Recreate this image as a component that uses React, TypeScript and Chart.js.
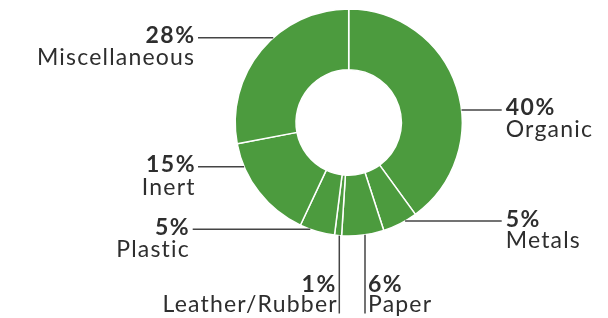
import React, { useEffect, useRef } from "react";
import { Chart, registerables } from "chart.js";

Chart.register(...registerables);

const categories = ["Organic", "Metals", "Paper", "Leather/Rubber", "Plastic", "Inert", "Miscellaneous"];
const values = [40, 5, 6, 1, 5, 15, 28];
const percentLabels = ["40%", "5%", "6%", "1%", "5%", "15%", "28%"];

const GREEN = "#4c9b3e";
const TEXT = "#2e2e2e";
const LINE = "#444444";

// label layout relative to donut center (pixels)
type Lay = { dir: "left" | "right" | "down"; off: number; end: number; textGap: number; b1: number; b2: number };
const layouts: Lay[] = [
  { dir: "right", off: -12.5, end: 153, textGap: 4, b1: 5, b2: 27 },
  { dir: "right", off: 98.5, end: 153, textGap: 4, b1: 5.5, b2: 27 },
  { dir: "down", off: 16.3, end: 191, textGap: 3, b1: 169.5, b2: 189.5 },
  { dir: "down", off: -9.4, end: 191, textGap: 4, b1: 169.5, b2: 189.5 },
  { dir: "left", off: 106.8, end: -156, textGap: 4, b1: 5.5, b2: 27.5 },
  { dir: "left", off: 44.2, end: -150.7, textGap: 3.5, b1: 5.5, b2: 28.5 },
  { dir: "left", off: -84.8, end: -150.7, textGap: 4, b1: 5.5, b2: 27.5 },
];

const labelPlugin = {
  id: "leaderLabels",
  afterDraw(chart: any) {
    const meta = chart.getDatasetMeta(0);
    const arc0 = meta.data[0];
    if (!arc0) return;
    const cx = arc0.x;
    const cy = arc0.y;
    const R = arc0.outerRadius;
    const ctx = chart.ctx;
    ctx.save();
    ctx.strokeStyle = LINE;
    ctx.lineWidth = 1.5;
    ctx.fillStyle = TEXT;
    const setBold = () => {
      ctx.font = "bold 23px Lato";
      ctx.letterSpacing = "1.5px";
    };
    const setReg = () => {
      ctx.font = "23px Lato";
      ctx.letterSpacing = "1.2px";
    };
    layouts.forEach((l, i) => {
      ctx.beginPath();
      if (l.dir === "down") {
        const x = cx + l.off;
        const y0 = cy + Math.sqrt(R * R - l.off * l.off);
        ctx.moveTo(x, y0);
        ctx.lineTo(x, cy + l.end);
        ctx.stroke();
        const isLeft = l.off < 0;
        ctx.textAlign = isLeft ? "right" : "left";
        const tx = isLeft ? x - l.textGap : x + l.textGap;
        setBold();
        ctx.fillText(percentLabels[i], isLeft ? tx + 1.5 : tx, l.b1 + cy);
        setReg();
        ctx.fillText(categories[i], isLeft ? tx + 2.5 : tx, l.b2 + cy);
      } else {
        const y = cy + l.off;
        const dx = Math.sqrt(R * R - l.off * l.off);
        const x0 = l.dir === "right" ? cx + dx : cx - dx;
        const x1 = cx + l.end;
        ctx.moveTo(x0, y);
        ctx.lineTo(x1, y);
        ctx.stroke();
        const isLeft = l.dir === "left";
        const tx = isLeft ? x1 - l.textGap : x1 + l.textGap;
        ctx.textAlign = isLeft ? "right" : "left";
        setBold();
        ctx.fillText(percentLabels[i], isLeft ? tx + 1.5 : tx, y + l.b1);
        setReg();
        ctx.fillText(categories[i], isLeft ? tx + 1.2 : tx, y + l.b2);
      }
    });
    ctx.restore();
  },
};

export default function App() {
  const ref = useRef<HTMLCanvasElement>(null);
  useEffect(() => {
    if (!ref.current) return;
    const chart = new Chart(ref.current, {
      type: "doughnut",
      data: {
        labels: categories,
        datasets: [
          {
            data: values,
            backgroundColor: GREEN,
            borderColor: "#ffffff",
            borderWidth: 1.5,
            hoverOffset: 0,
          },
        ],
      },
      options: {
        animation: false,
        responsive: false,
        radius: 113.5,
        cutout: 56.5,
        layout: { padding: { left: 200, right: 110.6, top: 0, bottom: 73 } },
        plugins: { legend: { display: false }, tooltip: { enabled: false } },
        events: [],
      } as any,
      plugins: [labelPlugin],
    });
    return () => chart.destroy();
  }, []);
  return (
    <div style={{ position: "fixed", left: 0, top: 0, width: 608, height: 318, background: "#fff" }}>
      <canvas ref={ref} width={608} height={318} style={{ display: "block", width: 608, height: 318 }} />
    </div>
  );
}
